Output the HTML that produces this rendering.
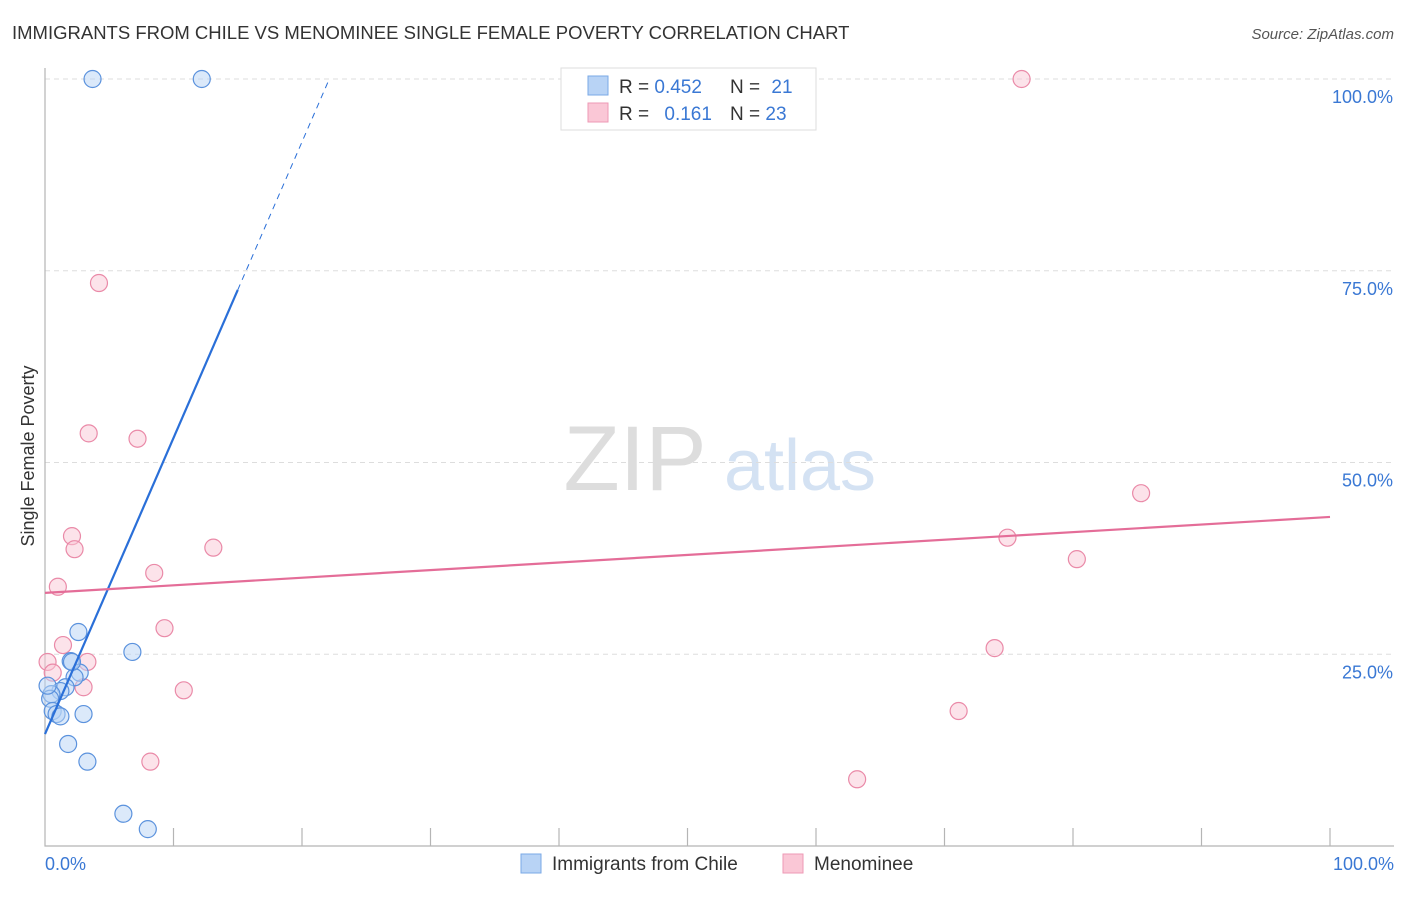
<!DOCTYPE html>
<html><head><meta charset="utf-8"><style>
body{margin:0;background:#fff;font-family:"Liberation Sans",sans-serif;}
svg text{font-family:"Liberation Sans",sans-serif;}
</style></head><body>
<svg id="chart" width="1406" height="892" xmlns="http://www.w3.org/2000/svg">
<text x="12" y="39" font-size="18.5" fill="#333">IMMIGRANTS FROM CHILE VS MENOMINEE SINGLE FEMALE POVERTY CORRELATION CHART</text>
<text x="1394" y="39" font-size="15" fill="#555" text-anchor="end" font-style="italic">Source: ZipAtlas.com</text>
<text transform="translate(34,456) rotate(-90)" font-size="18" fill="#333" text-anchor="middle">Single Female Poverty</text>
<g>
<text x="635" y="490" font-size="92" fill="#ddd" text-anchor="middle" font-family="Liberation Serif,serif">ZIP</text>
<text x="800" y="490" font-size="72" fill="#d4e2f3" text-anchor="middle">atlas</text>
</g>
<g id="grid"></g><g id="axes"></g><g id="marks"></g>
<g>
<rect x="561" y="68" width="255" height="62" fill="#fff" stroke="#ddd"/>
<rect x="588" y="76" width="20" height="19" fill="#b8d3f5" stroke="#7aa8e6"/>
<rect x="588" y="103" width="20" height="19" fill="#fac7d6" stroke="#ee9ab5"/>
<text x="619" y="93" font-size="19" fill="#333">R = <tspan fill="#3a78d4">0.452</tspan></text>
<text x="730" y="93" font-size="19" fill="#333">N = <tspan fill="#3a78d4" dx="6">21</tspan></text>
<text x="619" y="120" font-size="19" fill="#333">R = <tspan fill="#3a78d4" dx="10">0.161</tspan></text>
<text x="730" y="120" font-size="19" fill="#333">N = <tspan fill="#3a78d4">23</tspan></text>
</g>
<g>
<rect x="521" y="854" width="20" height="19" fill="#b8d3f5" stroke="#7aa8e6"/>
<text x="552" y="870" font-size="19" fill="#333">Immigrants from Chile</text>
<rect x="783" y="854" width="20" height="19" fill="#fac7d6" stroke="#ee9ab5"/>
<text x="814" y="870" font-size="19" fill="#333">Menominee</text>
</g>
</svg>
<script>
const chileX=[3.7,12.2,2.6,6.8,2.0,2.7,2.3,1.6,1.2,0.5,0.4,0.2,0.6,0.9,1.2,3.0,1.8,3.3,6.1,8.0,2.1];
const chileY=[100,100,27.9,25.3,24.1,22.6,22.0,20.7,20.2,19.8,19.2,20.9,17.6,17.2,16.9,17.2,13.3,11.0,4.2,2.2,24.0];
const menoX=[76.0,4.2,3.4,7.2,85.3,2.1,2.3,13.1,74.9,80.3,8.5,1.0,9.3,1.4,73.9,3.3,0.2,0.6,3.0,10.8,71.1,8.2,63.2];
const menoY=[100,73.4,53.8,53.1,46.0,40.4,38.7,38.9,40.2,37.4,35.6,33.8,28.4,26.2,25.8,24.0,24.0,22.6,20.7,20.3,17.6,11.0,8.7];
const yTicks=[25,50,75,100];
const yTickLabels=["25.0%","50.0%","75.0%","100.0%"];
const xTicks=[0,10,20,30,40,50,60,70,80,90,100];
const chileTrend=[14.6,3.86];
const menoTrend=[33.0,0.099];
const NS="http://www.w3.org/2000/svg";
const sx=v=>45+v*12.85, sy=v=>846-v*7.67;
function mk(p,tag,a){const e=document.createElementNS(NS,tag);for(const k in a)e.setAttribute(k,a[k]);p.appendChild(e);return e;}
const grid=document.getElementById('grid'),axes=document.getElementById('axes'),marks=document.getElementById('marks');
yTicks.forEach((t,i)=>{
 const l=mk(grid,'line',{x1:45,x2:1394,y1:sy(t),y2:sy(t),stroke:'#ddd','stroke-dasharray':'5,4'});
 
 
 const tx=mk(axes,'text',{x:1393,y:sy(t)+24,'font-size':18,fill:'#3a78d4','text-anchor':'end'});tx.textContent=yTickLabels[i];
 
 
});
const ax=mk(axes,'path',{d:'M45,68 V846 H1394',stroke:'#b5b5b5',fill:'none','stroke-width':1.2});


xTicks.forEach(t=>{const l=mk(axes,'line',{x1:sx(t),x2:sx(t),y1:846,y2:(t==0?846:828),stroke:'#b5b5b5','stroke-width':1.2});
 
 });
const x0=mk(axes,'text',{x:45,y:870,'font-size':18,fill:'#3a78d4'});x0.textContent='0.0%';


const x1=mk(axes,'text',{x:1394,y:870,'font-size':18,fill:'#3a78d4','text-anchor':'end'});x1.textContent='100.0%';


function dots(X,Y,fill,stroke,name){X.forEach((x,i)=>{const c=mk(marks,'circle',{cx:sx(x),cy:sy(Y[i]),r:8.5,fill:fill,'fill-opacity':0.5,stroke:stroke,'stroke-width':1.2});
 
 });}
dots(menoX,menoY,'#fac7d6','#ea8aa8','menominee-point');
dots(chileX,chileY,'#b8d3f5','#5b92dd','chile-point');
const ce=15, cEnd=(100-chileTrend[0])/chileTrend[1];
const tl=mk(marks,'line',{x1:sx(0),y1:sy(chileTrend[0]),x2:sx(ce),y2:sy(chileTrend[0]+chileTrend[1]*ce),stroke:'#2a6fd8','stroke-width':2.2});


const td=mk(marks,'line',{x1:sx(ce),y1:sy(chileTrend[0]+chileTrend[1]*ce),x2:sx(cEnd),y2:sy(100),stroke:'#2a6fd8','stroke-width':1,'stroke-dasharray':'6,5'});


const ml=mk(marks,'line',{x1:sx(0),y1:sy(menoTrend[0]),x2:sx(100),y2:sy(menoTrend[0]+menoTrend[1]*100),stroke:'#e46d98','stroke-width':2.2});


</script>
</body></html>
